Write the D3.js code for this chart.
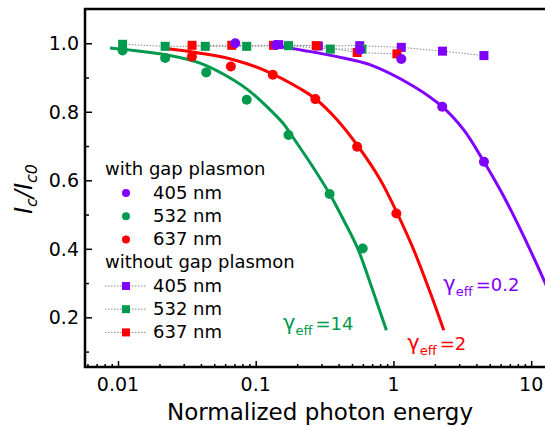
<!DOCTYPE html>
<html>
<head>
<meta charset="utf-8">
<script src="https://cdn.jsdelivr.net/npm/d3@7"></script>
<style>
  body { margin: 0; background: #fff; }
  text { font-family: "DejaVu Sans", sans-serif; }
</style>
</head>
<body>
<div id="chart"></div>
<script>
// measured points, x = normalized photon energy, y = Ic/Ic0
// with gap plasmon (circles)
const circ405 = [[0.071, 1.0], [0.14, 0.995], [0.569, 0.981], [1.14, 0.954], [2.26, 0.815], [4.54, 0.654]];
const circ532 = [[0.0108, 0.979], [0.022, 0.957], [0.0437, 0.915], [0.086, 0.835], [0.173, 0.732], [0.344, 0.56], [0.598, 0.401]];
const circ637 = [[0.0344, 0.961], [0.066, 0.932], [0.133, 0.908], [0.271, 0.837], [0.545, 0.698], [1.05, 0.503]];

// without gap plasmon (squares + dotted line)
const sq405 = [[0.147, 0.996], [0.285, 0.992], [0.569, 0.993], [1.14, 0.988], [2.27, 0.977], [4.54, 0.964]];
const sq532 = [[0.0108, 0.997], [0.022, 0.991], [0.043, 0.991], [0.086, 0.991], [0.173, 0.993], [0.348, 0.983], [0.59, 0.983]];
const sq637 = [[0.0345, 0.994], [0.067, 0.994], [0.1346, 0.994], [0.275, 0.993], [0.545, 0.973], [1.06, 0.969]];

// fitted curves
const fit405 = [[0.132, 0.994], [0.223, 0.979], [0.39, 0.961], [0.681, 0.937], [1.406, 0.874],
  [2.26, 0.815], [3.24, 0.747], [4.54, 0.654], [6.34, 0.552], [8.87, 0.435], [12.4, 0.308], [16.4, 0.197]];
const fit532 = [[0.00875, 0.986], [0.0129, 0.979], [0.0226, 0.966], [0.0394, 0.942], [0.069, 0.893], [0.0912, 0.859],
  [0.1205, 0.815], [0.159, 0.765], [0.183, 0.73], [0.263, 0.636], [0.348, 0.557], [0.4345, 0.484], [0.55, 0.401],
  [0.70, 0.284], [0.889, 0.162]];
const fit637 = [[0.0208, 0.986], [0.0394, 0.971], [0.069, 0.952], [0.1205, 0.918], [0.211, 0.867], [0.271, 0.838],
  [0.385, 0.779], [0.545, 0.703], [0.804, 0.601], [1.064, 0.504], [1.406, 0.396], [1.858, 0.27], [2.32, 0.162]];

const wavelengths = ["405 nm", "532 nm", "637 nm"];
const colors = ["#8000ff", "#009a4e", "#ff0000"];
const gammaLabels = ["0.2", "14", "2"];
const gammaAt = [[2.3, 0.276], [0.158, 0.163], [1.26, 0.104]];  // baseline start of each label

const xMajor = [0.01, 0.1, 1, 10];
const yMajor = [0.2, 0.4, 0.6, 0.8, 1.0];
const yMinor = [0.1, 0.3, 0.5, 0.7, 0.9];

const W = 545, H = 430;
const padL = 85, padT = 9, axisY = 367;

const svg = d3.select("#chart").append("svg")
  .attr("width", W).attr("height", H);

const x = d3.scaleLog().domain([0.00576, 12.6]).range([padL, W]);
const y = d3.scaleLinear().domain([0.055, 1.1]).range([axisY, padT]);

svg.append("clipPath").attr("id", "plotclip")
  .append("rect").attr("x", padL).attr("y", padT).attr("width", W - padL).attr("height", axisY - padT);

// axes with inward ticks
const xMinor = x.ticks(40).filter(v => !xMajor.some(m => Math.abs(m - v) < 1e-9));
const xAxis = svg.append("g").attr("transform", `translate(0,${axisY})`);
xAxis.call(d3.axisTop(x).tickValues(xMinor).tickSize(3).tickFormat(""));
xAxis.append("g").call(d3.axisTop(x).tickValues(xMajor).tickSize(6).tickFormat(""));
xAxis.selectAll(".domain").remove();
xAxis.selectAll("line").attr("stroke", "#000").attr("stroke-width", 1.5);
xAxis.selectAll(".xlab").data(xMajor).join("text")
  .attr("x", d => x(d)).attr("y", 24)
  .attr("text-anchor", "middle").attr("font-size", 19)
  .attr("fill", "#000").attr("font-family", "DejaVu Sans, sans-serif")
  .text(d => d3.format("~g")(d));

const yAxis = svg.append("g").attr("transform", `translate(${padL},0)`);
yAxis.call(d3.axisRight(y).tickValues(yMinor).tickSize(4).tickFormat(""));
yAxis.append("g").call(d3.axisRight(y).tickValues(yMajor).tickSize(7).tickFormat(""));
yAxis.selectAll(".domain").remove();
yAxis.selectAll("line").attr("stroke", "#000").attr("stroke-width", 1.5);
yAxis.selectAll(".ylab").data(yMajor).join("text")
  .attr("x", -6).attr("y", d => y(d) + 7)
  .attr("text-anchor", "end").attr("font-size", 19)
  .attr("fill", "#000").attr("font-family", "DejaVu Sans, sans-serif")
  .text(d => d3.format(".1f")(d));

// frame: left, bottom, top (right side is cut off)
svg.append("path")
  .attr("d", `M${W},${padT}H${padL}V${axisY}H${W}`)
  .attr("fill", "none").attr("stroke", "#000").attr("stroke-width", 2.5);

const plot = svg.append("g").attr("clip-path", "url(#plotclip)");

const line = d3.line().x(d => x(d[0])).y(d => y(d[1]));
const smooth = d3.line().x(d => x(d[0])).y(d => y(d[1])).curve(d3.curveCatmullRom);

// dotted reference lines (without gap plasmon)
[sq405, sq532, sq637].forEach(s => {
  plot.append("path").attr("d", line(s))
    .attr("fill", "none").attr("stroke", "#8a8a8a").attr("stroke-width", 1)
    .attr("stroke-dasharray", "1.5,1.5");
});

// fitted curves
[fit405, fit532, fit637].forEach((f, i) => {
  plot.append("path").attr("d", smooth(f))
    .attr("fill", "none").attr("stroke", colors[i]).attr("stroke-width", 3);
});

// squares then circles
[sq405, sq532, sq637].forEach((s, i) => {
  plot.selectAll(null).data(s).join("rect")
    .attr("x", d => x(d[0]) - 4.5).attr("y", d => y(d[1]) - 4.5)
    .attr("width", 9).attr("height", 9).attr("fill", colors[i]);
});
[circ405, circ532, circ637].forEach((c, i) => {
  plot.selectAll(null).data(c).join("circle")
    .attr("cx", d => x(d[0])).attr("cy", d => y(d[1])).attr("r", 5)
    .attr("fill", colors[i]);
});

// gamma labels
gammaLabels.forEach((g, i) => {
  const t = svg.append("text")
    .attr("x", x(gammaAt[i][0])).attr("y", y(gammaAt[i][1]))
    .attr("fill", colors[i]).attr("font-size", 18);
  t.append("tspan").attr("font-size", 21).text("γ");
  t.append("tspan").attr("font-size", 13).attr("dy", 5).text("eff");
  t.append("tspan").attr("dy", -5).attr("dx", 3).text("=" + g);
});

// legend
const lg = svg.append("g");
lg.append("text").attr("x", 105).attr("y", 175).attr("font-size", 18).text("with gap plasmon");
wavelengths.forEach((w, i) => {
  const cy = 193 + i * 23.2;
  lg.append("circle").attr("cx", 126).attr("cy", cy).attr("r", 4).attr("fill", colors[i]);
  lg.append("text").attr("x", 153).attr("y", cy + 6).attr("font-size", 18).text(w);
});
lg.append("text").attr("x", 105).attr("y", 268).attr("font-size", 18).text("without gap plasmon");
wavelengths.forEach((w, i) => {
  const cy = 286 + i * 23.2;
  lg.append("line").attr("x1", 105).attr("x2", 147).attr("y1", cy).attr("y2", cy)
    .attr("stroke", "#8a8a8a").attr("stroke-width", 1).attr("stroke-dasharray", "1.5,1.5");
  lg.append("rect").attr("x", 122).attr("y", cy - 4).attr("width", 8).attr("height", 8).attr("fill", colors[i]);
  lg.append("text").attr("x", 153).attr("y", cy + 6).attr("font-size", 18).text(w);
});

// axis titles
svg.append("text").attr("x", 320).attr("y", 420)
  .attr("text-anchor", "middle").attr("font-size", 23)
  .text("Normalized photon energy");

const yt = svg.append("text")
  .attr("transform", "translate(32,189) rotate(-90)")
  .attr("text-anchor", "middle")
  .attr("font-family", "Liberation Sans, Arial, sans-serif")
  .attr("font-style", "italic").attr("font-size", 24);
yt.append("tspan").text("I");
yt.append("tspan").attr("font-size", 16).attr("dy", 5).text("c");
yt.append("tspan").attr("dy", -5).text("/I");
yt.append("tspan").attr("font-size", 16).attr("dy", 5).text("c0");
</script>
</body>
</html>
